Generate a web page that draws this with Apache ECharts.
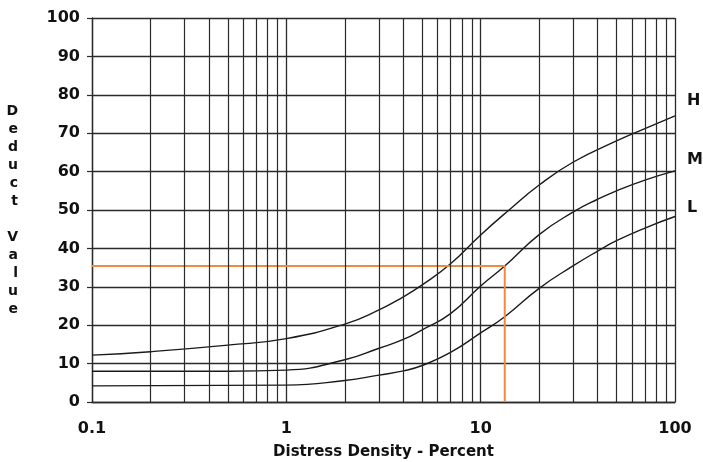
<!DOCTYPE html>
<html>
<head>
<meta charset="utf-8">
<script src="https://cdn.jsdelivr.net/npm/echarts@6/dist/echarts.min.js"></script>
<style>
  html, body { margin: 0; padding: 0; background: #fff; }
  #chart { width: 703px; height: 462px; }
</style>
</head>
<body>
<div id="chart"></div>
<script>
// Deduct value curves by severity level (x = distress density %, y = deduct value)
const curveHigh = [[0.1, 12.2], [0.2, 13.1], [0.5, 14.8], [1, 16.5], [2, 20.3], [3, 24], [4, 27.4], [5, 30.5],
  [7, 36], [10, 43.5], [14, 50], [20, 56.5], [30, 62.5], [50, 68], [70, 71.2], [100, 74.5]];
const curveMedium = [[0.1, 8], [0.5, 8], [1, 8.3], [2, 11], [3, 14], [4, 16.3], [5, 18.8], [7, 23],
  [10, 30.2], [13.3, 35.4], [20, 43.6], [30, 49.5], [40, 52.8], [50, 55], [70, 57.8], [100, 60.2]];
const curveLow = [[0.1, 4.2], [1, 4.4], [2, 5.6], [3, 7], [4, 8.1], [5, 9.5], [7, 12.9], [10, 18],
  [13.3, 22.2], [20, 29.6], [30, 35.5], [40, 39.3], [50, 42], [70, 45.3], [100, 48.3]];
const curveNames = ['H', 'M', 'L'];

// Worked example: density 13.3 % read on the M curve gives deduct value 35.4
const exampleDensity = 13.3;
const exampleDeduct = 35.4;

// Minor vertical grid lines of the log paper
const minorGridX = [0.2, 0.3, 0.4, 0.5, 0.6, 0.7, 0.8, 0.9, 2, 3, 4, 5, 6, 7, 8, 9, 20, 30, 40, 50, 60, 70, 80, 90];

const gridColor = '#2a2a2a';
const font = 'DejaVu Sans, Arial, sans-serif';

const curveSeries = [curveHigh, curveMedium, curveLow].map((data, i) => ({
  type: 'line',
  name: curveNames[i],
  data: data,
  smooth: 0.5,
  showSymbol: false,
  lineStyle: { color: '#1a1a1a', width: 1.4 },
  endLabel: {
    show: true,
    formatter: curveNames[i],
    offset: [[4, -15], [4, -11], [4, -9]][i],
    color: '#111',
    fontFamily: font,
    fontWeight: 'bold',
    fontSize: 16
  },
  z: 3
}));

const chart = echarts.init(document.getElementById('chart'), null, { renderer: 'canvas' });
chart.setOption({
  animation: false,
  backgroundColor: '#fff',
  grid: { left: 92, right: 28, top: 18, bottom: 60, containLabel: false, outerBoundsMode: 'none' },
  xAxis: {
    type: 'log',
    logBase: 10,
    min: 0.1,
    max: 100,
    name: 'Distress Density - Percent',
    nameLocation: 'middle',
    nameGap: 43,
    nameTextStyle: { color: '#111', fontFamily: font, fontWeight: 'bold', fontSize: 15 },
    axisLine: { lineStyle: { color: gridColor, width: 1.3 } },
    axisTick: { show: false },
    axisLabel: {
      color: '#111', fontFamily: font, fontWeight: 'bold', fontSize: 16, margin: 19,
      formatter: v => String(v)
    },
    splitLine: { show: true, lineStyle: { color: gridColor, width: 1.3 } },
    minorTick: { show: false },
    minorSplitLine: { show: false }
  },
  yAxis: {
    type: 'value',
    min: 0,
    max: 100,
    interval: 10,
    name: 'D\ne\nd\nu\nc\nt\n\nV\na\nl\nu\ne',
    nameLocation: 'middle',
    nameRotate: 0,
    nameGap: 74,
    nameTextStyle: {
      color: '#111', fontFamily: font, fontWeight: 'bold', fontSize: 14, lineHeight: 18,
      padding: [34, 0, 0, 0]
    },
    axisLine: { show: true, lineStyle: { color: gridColor, width: 1.3 } },
    axisTick: { show: true, length: 5, lineStyle: { color: gridColor, width: 1.2 } },
    axisLabel: { color: '#111', fontFamily: font, fontWeight: 'bold', fontSize: 16, margin: 12 },
    splitLine: { show: true, lineStyle: { color: gridColor, width: 1.3 } }
  },
  series: [
    {
      type: 'line',
      data: [],
      silent: true,
      markLine: {
        silent: true,
        symbol: 'none',
        label: { show: false },
        lineStyle: { color: gridColor, width: 1.2, type: 'solid' },
        data: minorGridX.map(v => ({ xAxis: v }))
      },
      z: 1
    },
    ...curveSeries,
    {
      type: 'line',
      data: [[0.1, exampleDeduct], [exampleDensity, exampleDeduct], [exampleDensity, 0]],
      showSymbol: false,
      lineStyle: { color: '#f08a3c', width: 2 },
      z: 4
    }
  ]
});
</script>
</body>
</html>
